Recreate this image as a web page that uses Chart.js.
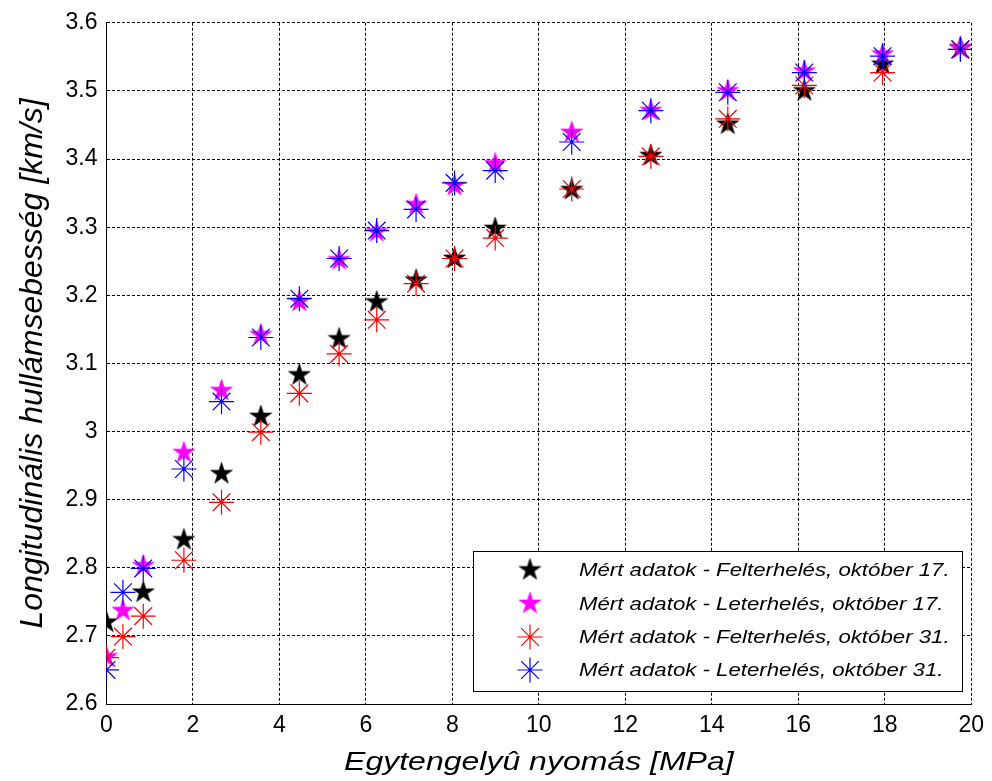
<!DOCTYPE html>
<html><head><meta charset="utf-8">
<script src="https://cdn.jsdelivr.net/npm/chart.js@4"></script>
<style>html,body{margin:0;padding:0;background:#fff}#wrap{width:992px;height:781px;position:relative}</style>
</head><body><div id="wrap"><canvas id="c"></canvas></div>
<script>
const xTickLabels = ['0','2','4','6','8','10','12','14','16','18','20'];
const yTickLabels = ['2.6','2.7','2.8','2.9','3','3.1','3.2','3.3','3.4','3.5','3.6'];
const seriesNames = [
  'Mért adatok - Felterhelés, október 17.',
  'Mért adatok - Leterhelés, október 17.',
  'Mért adatok - Felterhelés, október 31.',
  'Mért adatok - Leterhelés, október 31.'
];
const xTitle = 'Egytengelyû nyomás [MPa]';
const yTitle = 'Longitudinális hullámsebesség [km/s]';

// pressure [MPa]
const pressureFel17 = [0, 0.85, 1.79, 2.66, 3.57, 4.46, 5.38, 6.25, 7.16, 8.05, 8.99, 10.76, 12.59, 14.37, 16.14, 17.95, 19.75];
const pressure = [0, 0.38, 0.85, 1.79, 2.66, 3.57, 4.46, 5.38, 6.25, 7.16, 8.05, 8.99, 10.76, 12.59, 14.37, 16.14, 17.95, 19.75];
// velocity [km/s]
const velFel17 = [2.720, 2.764, 2.841, 2.938, 3.022, 3.083, 3.136, 3.190, 3.222, 3.254, 3.298, 3.355, 3.405, 3.451, 3.500, 3.539, 3.563];
const velLe17  = [2.669, 2.737, 2.803, 2.969, 3.060, 3.142, 3.191, 3.252, 3.293, 3.333, 3.361, 3.393, 3.439, 3.471, 3.500, 3.529, 3.554, 3.563];
const velFel31 = [2.668, 2.699, 2.729, 2.811, 2.896, 2.999, 3.056, 3.114, 3.164, 3.217, 3.254, 3.284, 3.356, 3.404, 3.459, 3.508, 3.527, 3.561];
const velLe31  = [2.650, 2.764, 2.799, 2.945, 3.044, 3.138, 3.195, 3.254, 3.295, 3.326, 3.365, 3.383, 3.425, 3.471, 3.498, 3.527, 3.551, 3.561];

function pts(xs, ys) { return xs.map((x, i) => ({x: x, y: ys[i]})); }

function makeStar(color, R) {
  const s = Math.ceil(R * 2 + 4);
  const c = document.createElement('canvas');
  c.width = s; c.height = s;
  const g = c.getContext('2d');
  const cx = s / 2, cy = s / 2, r = R * 0.382;
  g.beginPath();
  for (let i = 0; i < 10; i++) {
    const a = -Math.PI / 2 + i * Math.PI / 5;
    const rr = (i % 2 === 0) ? R : r;
    const px = cx + rr * Math.cos(a), py = cy + rr * Math.sin(a);
    if (i === 0) g.moveTo(px, py); else g.lineTo(px, py);
  }
  g.closePath();
  g.fillStyle = color; g.fill();
  g.strokeStyle = color; g.lineWidth = 0.6; g.stroke();
  return c;
}
const starBlack = makeStar('#000000', 11.5);
const starMagenta = makeStar('#ff00ff', 11.5);

const FONT = '"Liberation Sans", Arial, Helvetica, sans-serif';

function drawAsterisk(ctx, x, y, r, color) {
  ctx.save();
  ctx.strokeStyle = color; ctx.lineWidth = 1.2;
  ctx.beginPath();
  ctx.moveTo(x - r, y); ctx.lineTo(x + r, y);
  ctx.moveTo(x, y - r); ctx.lineTo(x, y + r);
  const d = r * Math.SQRT1_2;
  ctx.moveTo(x - d, y - d); ctx.lineTo(x + d, y + d);
  ctx.moveTo(x - d, y + d); ctx.lineTo(x + d, y - d);
  ctx.stroke();
  ctx.restore();
}

const overlay = {
  id: 'overlay',
  afterDraw(chart) {
    const ctx = chart.ctx;
    const ca = chart.chartArea;
    ctx.save();
    // axis titles
    ctx.fillStyle = '#000';
    ctx.font = 'italic 25px ' + FONT;
    ctx.textBaseline = 'alphabetic';
    ctx.textAlign = 'left';
    const wx = ctx.measureText(xTitle).width * 1.28;
    ctx.save();
    ctx.translate((ca.left + ca.right) / 2 - wx / 2, 770);
    ctx.scale(1.28, 1);
    ctx.fillText(xTitle, 0, 0);
    ctx.restore();

    ctx.font = 'italic 32px ' + FONT;
    ctx.save();
    ctx.translate(42, (ca.top + ca.bottom) / 2);
    ctx.rotate(-Math.PI / 2);
    ctx.textAlign = 'center';
    ctx.fillText(yTitle, 0, 0);
    ctx.restore();

    // legend
    const bx = 473.5, by = 551.5, bw = 489, bh = 140;
    ctx.fillStyle = '#fff';
    ctx.fillRect(bx, by, bw, bh);
    ctx.strokeStyle = '#000'; ctx.lineWidth = 1;
    ctx.strokeRect(bx, by, bw, bh);
    const rows = [570, 603.5, 637, 670];
    chart.data.datasets.forEach((ds, i) => {
      const y = rows[i];
      if (ds.pointStyle instanceof HTMLCanvasElement) {
        const im = ds.pointStyle;
        ctx.drawImage(im, 530 - im.width / 2, y - im.height / 2);
      } else {
        drawAsterisk(ctx, 530, y, ds.pointRadius, ds.borderColor);
      }
      ctx.save();
      ctx.fillStyle = '#000';
      ctx.font = 'italic 17.5px ' + FONT;
      ctx.textAlign = 'left';
      ctx.translate(579, y + 6);
      ctx.scale(1.27, 1);
      ctx.fillText(ds.label, 0, 0);
      ctx.restore();
    });
    ctx.restore();
  }
};

const gridCfg = { color: '#000', lineWidth: 1, drawTicks: false };
const borderCfg = { display: true, color: '#000', width: 1, dash: [3, 2] };

new Chart(document.getElementById('c'), {
  type: 'scatter',
  data: {
    datasets: [
      { label: seriesNames[0], data: pts(pressureFel17, velFel17), pointStyle: starBlack, pointRadius: 11, borderColor: '#000', backgroundColor: '#000', order: 4 },
      { label: seriesNames[1], data: pts(pressure, velLe17), pointStyle: starMagenta, pointRadius: 11, borderColor: '#ff00ff', backgroundColor: '#ff00ff', order: 3 },
      { label: seriesNames[2], data: pts(pressure, velFel31), pointStyle: 'star', pointRadius: 12.5, borderWidth: 1.2, borderColor: '#ff0000', backgroundColor: '#ff0000', order: 2 },
      { label: seriesNames[3], data: pts(pressure, velLe31), pointStyle: 'star', pointRadius: 12.5, borderWidth: 1.2, borderColor: '#0000ff', backgroundColor: '#0000ff', order: 1 }
    ]
  },
  options: {
    responsive: true,
    maintainAspectRatio: false,
    animation: false,
    events: [],
    layout: { padding: { left: 0, right: 18, top: 20, bottom: 0 } },
    plugins: { legend: { display: false }, tooltip: { enabled: false } },
    scales: {
      x: {
        type: 'linear', min: 0, max: 20,
        afterFit(s) { s.height = 77; },
        ticks: { stepSize: 2, color: '#000', padding: 8, maxRotation: 0,
          font: { family: FONT, size: 23 },
          callback: (v, i) => xTickLabels[i] },
        grid: gridCfg,
        border: borderCfg
      },
      y: {
        type: 'linear', min: 2.6, max: 3.6,
        afterFit(s) { s.width = 106.5; },
        ticks: { stepSize: 0.1, color: '#000', padding: 9,
          font: { family: FONT, size: 23 },
          callback: (v, i) => yTickLabels[i] },
        grid: gridCfg,
        border: borderCfg
      }
    }
  },
  plugins: [overlay]
});
</script>
</body></html>
